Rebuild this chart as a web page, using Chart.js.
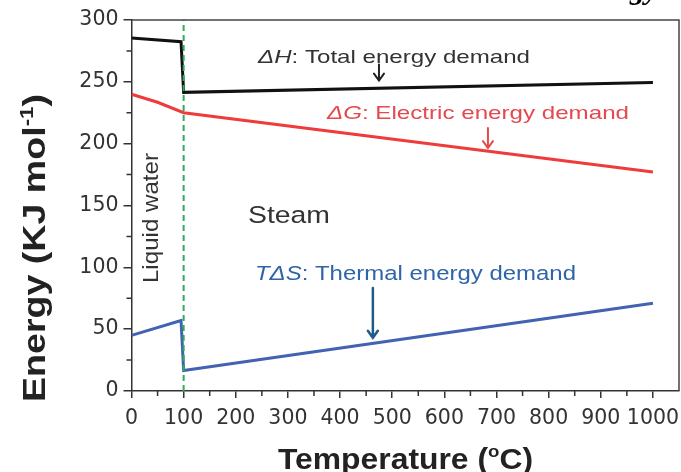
<!DOCTYPE html>
<html>
<head>
<meta charset="utf-8">
<script src="https://cdn.jsdelivr.net/npm/chart.js@4"></script>
<style>
  html, body { margin: 0; background: #fff; }
  #wrap { width: 681px; height: 472px; }
</style>
</head>
<body>
<div id="wrap"><canvas id="energyChart"></canvas></div>
<script>
// values (temperature in °C, energy in kJ/mol)
const dhTemp  = [0, 95, 100, 1000];
const dhVal   = [285.5, 282.5, 241.5, 249.5];
const dgTemp  = [0, 50, 100, 1000];
const dgVal   = [240, 233.5, 225, 177];
const tdsTemp = [0, 95, 100, 1000];
const tdsVal  = [45, 57, 16.5, 71];
const boilTemp = [100, 100];
const boilVal  = [0, 300];

const xTickLabels = [0, 100, 200, 300, 400, 500, 600, 700, 800, 900, 1000];
const yTickLabels = [0, 50, 100, 150, 200, 250, 300];

const pts = (xs, ys) => xs.map((x, i) => ({ x: x, y: ys[i] }));

const SANS = '"Liberation Sans", Arial, sans-serif';

// draws a run of text pieces, stretched to a given width
function drawText(ctx, parts, x0, y0, width, color, rot) {
  ctx.save();
  ctx.translate(x0, y0);
  if (rot) ctx.rotate(rot);
  let nat = 0;
  parts.forEach(p => { ctx.font = p.font; nat += ctx.measureText(p.t).width; });
  ctx.scale(width / nat, 1);
  ctx.fillStyle = color;
  ctx.textAlign = 'left';
  ctx.textBaseline = 'alphabetic';
  let cx = 0;
  parts.forEach(p => {
    ctx.font = p.font;
    ctx.fillText(p.t, cx, p.dy || 0);
    cx += ctx.measureText(p.t).width;
  });
  ctx.restore();
}

function arrow(ctx, px, y1, y2, color, lw) {
  ctx.save();
  ctx.strokeStyle = color;
  ctx.lineWidth = lw;
  ctx.lineCap = 'round';
  ctx.beginPath();
  ctx.moveTo(px, y1);
  ctx.lineTo(px, y2);
  ctx.moveTo(px - 5, y2 - 7);
  ctx.lineTo(px, y2);
  ctx.lineTo(px + 5, y2 - 7);
  ctx.stroke();
  ctx.restore();
}

const decor = {
  id: 'decor',
  afterDraw(chart) {
    const { ctx, chartArea: a, scales: { x, y } } = chart;

    // frame on top and right
    ctx.save();
    ctx.strokeStyle = '#444';
    ctx.lineWidth = 1.5;
    ctx.beginPath();
    ctx.moveTo(a.left, a.top);
    ctx.lineTo(a.right, a.top);
    ctx.lineTo(a.right, a.bottom);
    ctx.stroke();

    // minor ticks
    ctx.strokeStyle = '#333';
    ctx.lineWidth = 1.5;
    ctx.beginPath();
    x.ticks.forEach(t => {
      if (xTickLabels.includes(t.value) || t.value > 1000) return;
      const px = x.getPixelForValue(t.value);
      ctx.moveTo(px, a.bottom);
      ctx.lineTo(px, a.bottom + 5);
    });
    y.ticks.forEach(t => {
      if (yTickLabels.includes(t.value)) return;
      const py = y.getPixelForValue(t.value);
      ctx.moveTo(a.left, py);
      ctx.lineTo(a.left - 5, py);
    });
    ctx.stroke();
    ctx.restore();

    // annotations
    drawText(ctx, [
      { t: 'ΔH', font: 'italic 19px ' + SANS },
      { t: ': Total energy demand', font: '19px ' + SANS }
    ], x.getPixelForValue(242.6), y.getPixelForValue(265.2), 272, '#333');
    arrow(ctx, x.getPixelForValue(474.6), y.getPixelForValue(264), y.getPixelForValue(251), '#222', 2);

    drawText(ctx, [
      { t: 'ΔG', font: 'italic 19px ' + SANS },
      { t: ': Electric energy demand', font: '19px ' + SANS }
    ], x.getPixelForValue(374.9), y.getPixelForValue(220), 302, '#e5484d');
    arrow(ctx, x.getPixelForValue(683.6), y.getPixelForValue(212.6), y.getPixelForValue(196.4), '#e5484d', 2);

    drawText(ctx, [
      { t: 'TΔS', font: 'italic 20.5px ' + SANS },
      { t: ': Thermal energy demand', font: '20.5px ' + SANS }
    ], x.getPixelForValue(236.8), y.getPixelForValue(89.8), 321, '#2f64a8');
    arrow(ctx, x.getPixelForValue(462.9), y.getPixelForValue(83.3), y.getPixelForValue(43), '#1f5a8a', 2.5);

    drawText(ctx, [{ t: 'Steam', font: '24.5px ' + SANS }],
      x.getPixelForValue(223.4), y.getPixelForValue(135.8), 82, '#333');

    drawText(ctx, [{ t: 'Liquid water', font: '22px ' + SANS }],
      x.getPixelForValue(51.5), y.getPixelForValue(87.3), 130, '#333', -Math.PI / 2);

    // axis titles
    const yw = 308;
    drawText(ctx, [
      { t: 'Energy (KJ mol', font: 'bold 32px ' + SANS },
      { t: '-1', font: 'bold 19px ' + SANS, dy: -12 },
      { t: ')', font: 'bold 32px ' + SANS }
    ], 45, 248 + yw / 2, yw, '#222', -Math.PI / 2);

    const xw = 255;
    drawText(ctx, [
      { t: 'Temperature (', font: 'bold 29px ' + SANS },
      { t: 'o', font: 'bold 17px ' + SANS, dy: -12 },
      { t: 'C)', font: 'bold 29px ' + SANS }
    ], 405.5 - xw / 2, 469, xw, '#222');

    // clipped heading fragment at the top right
    ctx.save();
    ctx.fillStyle = '#000';
    ctx.font = 'italic bold 30px "Liberation Serif", serif';
    ctx.fillText('gy', 630, -1);
    ctx.restore();
  }
};

const lineDs = (data, color, width) => ({
  data: data,
  borderColor: color,
  borderWidth: width,
  pointRadius: 0,
  tension: 0,
  fill: false
});

new Chart(document.getElementById('energyChart'), {
  type: 'line',
  data: {
    datasets: [
      Object.assign(lineDs(pts(boilTemp, boilVal), '#2faa5f', 2), { borderDash: [6, 4] }),
      lineDs(pts(dhTemp, dhVal), '#111', 3),
      lineDs(pts(dgTemp, dgVal), '#ef3b3b', 3),
      lineDs(pts(tdsTemp, tdsVal), '#4163b2', 3)
    ]
  },
  options: {
    responsive: true,
    maintainAspectRatio: false,
    animation: false,
    layout: { padding: { left: 0, top: 20, right: 2, bottom: 0 } },
    plugins: {
      legend: { display: false },
      title: { display: false },
      tooltip: { enabled: false }
    },
    scales: {
      x: {
        type: 'linear',
        min: 0,
        max: 1050,
        afterFit(s) { s.height = 81; s.paddingLeft = 0; s.paddingRight = 0; },
        border: { display: true, color: '#333', width: 1.5 },
        grid: {
          drawOnChartArea: false,
          tickLength: 7,
          lineWidth: 1.5,
          tickColor: c => xTickLabels.includes(c.tick.value) ? '#333' : 'transparent'
        },
        ticks: {
          stepSize: 50,
          autoSkip: false,
          maxRotation: 0,
          padding: 8,
          color: '#333',
          font: { family: '"DejaVu Sans"', size: 20.5 },
          callback: v => xTickLabels.includes(v) ? String(v) : ''
        }
      },
      y: {
        min: 0,
        max: 300,
        afterFit(s) { s.width = 131.5; s.paddingTop = 0; s.paddingBottom = 0; },
        border: { display: true, color: '#333', width: 1.5 },
        grid: {
          drawOnChartArea: false,
          tickLength: 8,
          lineWidth: 1.5,
          tickColor: c => yTickLabels.includes(c.tick.value) ? '#333' : 'transparent'
        },
        ticks: {
          stepSize: 25,
          autoSkip: false,
          padding: 5,
          color: '#333',
          font: { family: '"DejaVu Sans"', size: 20.5 },
          callback: v => yTickLabels.includes(v) ? String(v) : ''
        }
      }
    }
  },
  plugins: [decor]
});
</script>
</body>
</html>
